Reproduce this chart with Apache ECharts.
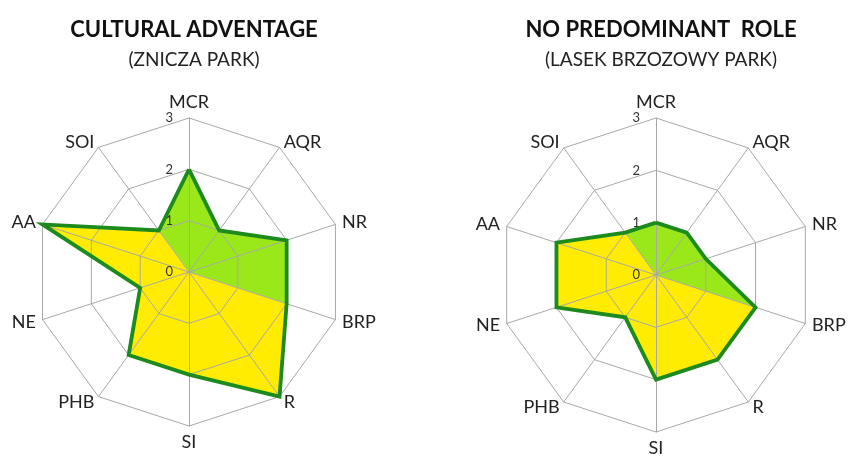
<!DOCTYPE html>
<html>
<head>
<meta charset="utf-8">
<script src="https://cdn.jsdelivr.net/npm/echarts@6/dist/echarts.min.js"></script>
<style>html,body{margin:0;padding:0;background:#fff}#c{width:848px;height:461px}</style>
</head>
<body>
<div id="c"></div>
<script>
// Axes in clockwise order, starting at the top
const axisNames = ['MCR','AQR','NR','BRP','R','SI','PHB','NE','AA','SOI'];
// Axes whose sector is filled green (the rest is yellow)
const greenAxes = ['SOI','MCR','AQR','NR','BRP'];
const yellowAxes = ['BRP','R','SI','PHB','NE','AA','SOI'];
const tickLabels = [0,1,2,3];
const maxValue = 3;

const titleLeft = 'CULTURAL ADVENTAGE';
const subtitleLeft = '(ZNICZA PARK)';
const valuesLeft = [2,1,2,2,3,2,2,1,3,1];

const titleRight = 'NO PREDOMINANT  ROLE';
const subtitleRight = '(LASEK BRZOZOWY PARK)';
const valuesRight = [1,1,1,2,2,2,1,2,2,1];

const FONT = 'Lato';
const GREEN_FILL = '#9be81a';
const YELLOW_FILL = '#ffec00';
const OUTLINE = '#1c8a1c';
const GRID = '#a8a8a8';

// ECharts radar runs counter-clockwise; reorder clockwise data
const order = [0].concat(axisNames.map((_, i) => i).slice(1).reverse());
const reorder = arr => order.map(i => arr[i]);
const names = reorder(axisNames);
const mask = (vals, keep) => axisNames.map((n, i) => keep.includes(n) ? vals[i] : 0);

const layouts = [
  {center: [189, 272], radius: 154, title: titleLeft, sub: subtitleLeft, vals: valuesLeft},
  {center: [656, 275], radius: 157, title: titleRight, sub: subtitleRight, vals: valuesRight}
];

const radar = layouts.map(l => ({
  center: l.center,
  radius: l.radius,
  startAngle: 90,
  shape: 'polygon',
  splitNumber: 3,
  z: 3,
  indicator: names.map(n => ({name: n, min: 0, max: maxValue})),
  axisName: {color: '#222', fontSize: 18, fontFamily: FONT},
  nameGap: 7,
  splitLine: {lineStyle: {color: GRID, width: 1}},
  splitArea: {show: false},
  axisLine: {lineStyle: {color: GRID, width: 1}},
  axisTick: {show: false},
  axisLabel: {show: false}
}));

const polar = layouts.map(l => ({center: l.center, radius: l.radius}));
const angleAxis = layouts.map((l, i) => ({polarIndex: i, show: false, type: 'value', min: 0, max: 360, startAngle: 90}));
const radiusAxis = layouts.map((l, i) => ({
  polarIndex: i, type: 'value', min: 0, max: maxValue, interval: 1, z: 4,
  axisLine: {show: false}, axisTick: {show: false}, splitLine: {show: false},
  axisLabel: {show: true, color: '#333', fontSize: 13, fontFamily: FONT, margin: 16,
    formatter: v => tickLabels.includes(v) ? String(v) : ''}
}));

const series = [];
layouts.forEach((l, i) => {
  series.push({
    type: 'radar', radarIndex: i, z: 1, symbol: 'none', silent: true,
    lineStyle: {width: 0, opacity: 0},
    areaStyle: {color: GREEN_FILL, opacity: 1},
    data: [{value: reorder(mask(l.vals, greenAxes))}]
  });
  series.push({
    type: 'radar', radarIndex: i, z: 1, symbol: 'none', silent: true,
    lineStyle: {width: 0, opacity: 0},
    areaStyle: {color: YELLOW_FILL, opacity: 1},
    data: [{value: reorder(mask(l.vals, yellowAxes))}]
  });
  series.push({
    type: 'radar', radarIndex: i, z: 5, symbol: 'none', silent: true,
    lineStyle: {width: 3.8, color: OUTLINE, join: 'miter'},
    data: [{value: reorder(l.vals)}]
  });
});

const title = layouts.map(l => ({
  text: l.title, subtext: l.sub,
  left: l.center[0], top: 14, textAlign: 'center', itemGap: 9,
  textStyle: {fontFamily: FONT, fontWeight: 'bold', fontSize: 22, color: '#111'},
  subtextStyle: {fontFamily: FONT, fontSize: 19, color: '#222'}
}));

const chart = echarts.init(document.getElementById('c'), null, {renderer: 'canvas'});
chart.setOption({
  animation: false,
  backgroundColor: '#fff',
  title, radar, polar, angleAxis, radiusAxis, series
});
</script>
</body>
</html>
